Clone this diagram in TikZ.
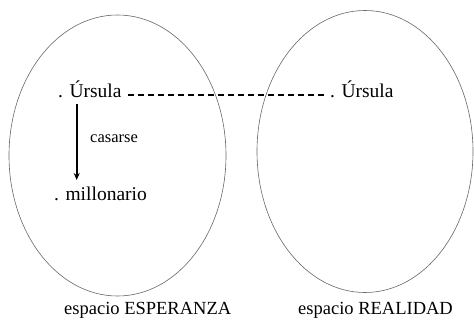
\documentclass[tikz,border=0pt]{standalone}
\usepackage{fontspec}
\setmainfont{Liberation Serif}
\usetikzlibrary{arrows.meta}
\begin{document}
\begin{tikzpicture}[x=1pt,y=1pt,
  space/.style={draw=black!60, line width=0.6pt},
  lbl/.style={inner sep=0pt, anchor=base west, font=\fontsize{19.5}{22}\selectfont},
  small/.style={inner sep=0pt, anchor=base west, font=\fontsize{16.5}{19}\selectfont},
  bottomlbl/.style={inner sep=0pt, anchor=base west, font=\fontsize{18.5}{21}\selectfont},
  link/.style={line width=1.4pt, dash pattern=on 6pt off 4pt}]
\useasboundingbox (0,0) rectangle (474,322);
\draw[space] (117.5,166.5) ellipse [x radius=108.5, y radius=140.5];
\draw[space] (365,170.5) ellipse [x radius=108, y radius=141];
\node[lbl] (u1) at (58,224.5) {. Úrsula};
\node[lbl] (u2) at (330,224.5) {. Úrsula};
\node[lbl] (m) at (54,121.5) {. millonario};
\node[small] (c) at (90,179) {casarse};
\node[bottomlbl] (e1) at (64,8) {espacio ESPERANZA};
\node[bottomlbl] (e2) at (298,8) {espacio REALIDAD};
\coordinate (a1) at (76.7,218);
\coordinate (a2) at (76.7,142);
\draw[line width=2pt, -{Stealth[length=7pt,width=6pt]}] (a1) -- (a2);
\draw[link] ([xshift=6pt,yshift=2.5pt]u1.base east) -- ([xshift=-4pt,yshift=2.5pt]u2.base west);
\end{tikzpicture}
\end{document}
